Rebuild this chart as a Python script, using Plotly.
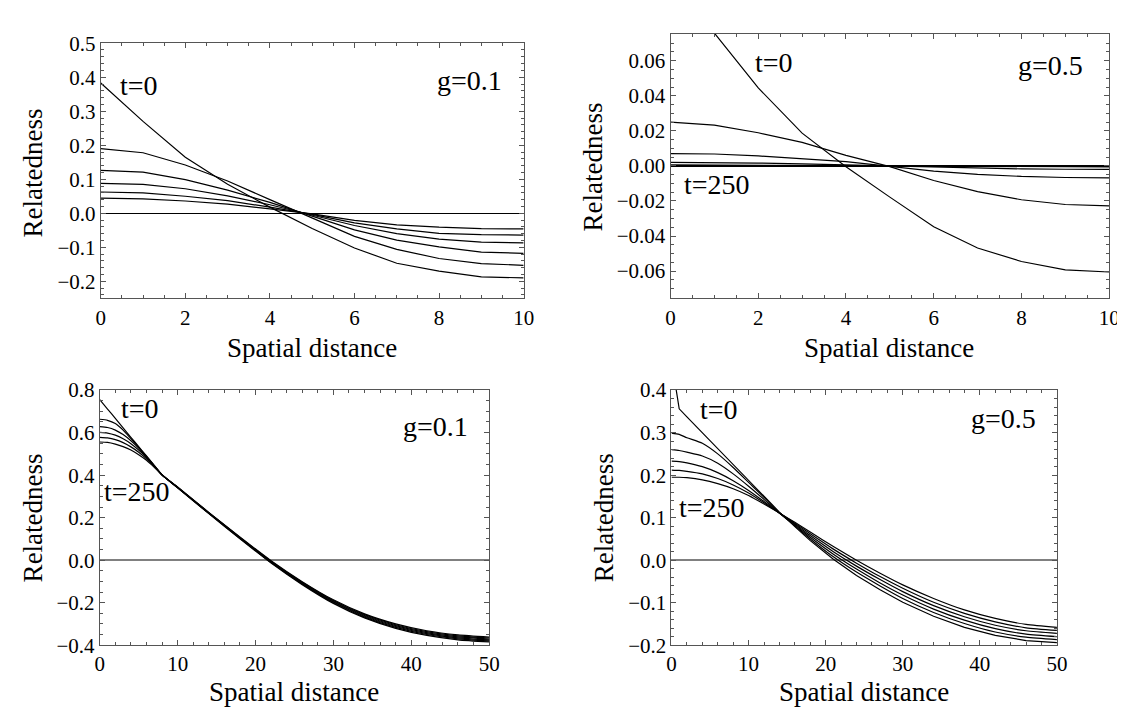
import plotly.graph_objects as go

W, H = 1125, 713
FONT = "Liberation Serif"

# ---------------- data ----------------
# Panel A (top-left, g=0.1)
dist_a = [0, 1, 2, 3, 4, 5, 6, 7, 8, 9, 10]
rel_a = [
    [0.383, 0.270, 0.165, 0.085, 0.018, -0.045, -0.102, -0.147, -0.170, -0.187, -0.190],
    [0.190, 0.178, 0.142, 0.095, 0.040, -0.014, -0.068, -0.106, -0.133, -0.148, -0.153],
    [0.126, 0.121, 0.099, 0.068, 0.032, -0.008, -0.049, -0.079, -0.099, -0.114, -0.118],
    [0.088, 0.085, 0.072, 0.051, 0.025, -0.005, -0.036, -0.060, -0.076, -0.085, -0.087],
    [0.0625, 0.060, 0.050, 0.037, 0.018, -0.003, -0.028, -0.046, -0.059, -0.063, -0.064],
    [0.0445, 0.0426, 0.036, 0.027, 0.013, -0.002, -0.021, -0.034, -0.041, -0.045, -0.046],
]

# Panel B (top-right, g=0.5)
dist_b = [0, 1, 2, 3, 4, 5, 6, 7, 8, 9, 10]
rel_b = [
    [0.107, 0.0755, 0.0445, 0.0187, -0.0005, -0.0178, -0.0347, -0.0468, -0.0545, -0.0593, -0.0605],
    [0.025, 0.0233, 0.0189, 0.0134, 0.006, -0.0004, -0.0083, -0.0147, -0.0193, -0.022, -0.0228],
    [0.0070, 0.0068, 0.0057, 0.0042, 0.0024, -0.0003, -0.0030, -0.0048, -0.0060, -0.0066, -0.0068],
    [0.0020, 0.0019, 0.0016, 0.0012, 0.0006, 0.0000, -0.0008, -0.0013, -0.0017, -0.0019, -0.0020],
    [0.0006, 0.0006, 0.0005, 0.0004, 0.0002, 0.0000, -0.0002, -0.0004, -0.0005, -0.0006, -0.0006],
    [0.0002, 0.0002, 0.0002, 0.0001, 0.0001, 0.0000, -0.0001, -0.0001, -0.0002, -0.0002, -0.0002],
]

# Panel C (bottom-left, g=0.1)
dist_c = [0, 1, 2, 3, 4, 5, 6, 7, 8, 10, 14, 18, 22, 26, 30, 34, 38, 42, 46, 50]
rel_c = [
    [0.755, 0.711, 0.667, 0.622, 0.578, 0.534, 0.490, 0.446, 0.402, 0.340, 0.219, 0.101, -0.0135, -0.115, -0.2035, -0.2715, -0.3205, -0.354, -0.3745, -0.3845],
    [0.663, 0.658, 0.643, 0.612, 0.572, 0.531, 0.488, 0.445, 0.401, 0.3408, 0.2202, 0.1026, -0.0113, -0.1122, -0.2001, -0.2677, -0.3163, -0.3496, -0.3699, -0.3799],
    [0.628, 0.624, 0.612, 0.591, 0.562, 0.527, 0.486, 0.444, 0.401, 0.3416, 0.2214, 0.1042, -0.0091, -0.1094, -0.1967, -0.2639, -0.3121, -0.3452, -0.3653, -0.3753],
    [0.601, 0.598, 0.588, 0.571, 0.548, 0.518, 0.483, 0.443, 0.401, 0.3424, 0.2226, 0.1058, -0.0069, -0.1066, -0.1933, -0.2601, -0.3079, -0.3408, -0.3607, -0.3707],
    [0.578, 0.575, 0.567, 0.553, 0.533, 0.508, 0.477, 0.441, 0.401, 0.3432, 0.2238, 0.1074, -0.0047, -0.1038, -0.1899, -0.2563, -0.3037, -0.3364, -0.3561, -0.3661],
    [0.556, 0.554, 0.546, 0.534, 0.518, 0.496, 0.470, 0.437, 0.401, 0.344, 0.225, 0.109, -0.0025, -0.101, -0.1865, -0.2525, -0.2995, -0.332, -0.3515, -0.3615],
]

# Panel D (bottom-right, g=0.5)
dist_d = [0, 1, 2, 4, 6, 8, 10, 12, 14, 16, 18, 21, 24, 27, 30, 34, 38, 42, 46, 50]
rel_d = [
    [0.470, 0.356, 0.337, 0.300, 0.263, 0.226, 0.189, 0.151, 0.113, 0.079, 0.046, 0.002, -0.036, -0.069, -0.099, -0.132, -0.158, -0.177, -0.189, -0.194],
    [0.299, 0.296, 0.288, 0.275, 0.250, 0.218, 0.183, 0.148, 0.111, 0.081, 0.050, 0.008, -0.028, -0.060, -0.090, -0.123, -0.149, -0.169, -0.181, -0.187],
    [0.260, 0.258, 0.254, 0.245, 0.228, 0.203, 0.174, 0.143, 0.111, 0.083, 0.054, 0.014, -0.021, -0.053, -0.082, -0.115, -0.141, -0.161, -0.174, -0.180],
    [0.233, 0.232, 0.229, 0.220, 0.206, 0.187, 0.164, 0.138, 0.111, 0.085, 0.058, 0.020, -0.014, -0.045, -0.074, -0.107, -0.133, -0.153, -0.166, -0.172],
    [0.212, 0.211, 0.209, 0.203, 0.192, 0.177, 0.158, 0.135, 0.111, 0.087, 0.062, 0.026, -0.007, -0.038, -0.066, -0.099, -0.125, -0.145, -0.159, -0.165],
    [0.195, 0.195, 0.194, 0.189, 0.180, 0.168, 0.152, 0.132, 0.111, 0.089, 0.066, 0.032, 0.000, -0.030, -0.058, -0.090, -0.117, -0.137, -0.151, -0.158],
]

x_title = "Spatial distance"
y_title = "Relatedness"

# ---------------- layout helpers ----------------
def px_x(p):
    return p / W

def px_y(p):
    return 1 - p / H

panels = [
    dict(box=(89, 518, 24, 288), xr=[0, 10], yr=[-0.25, 0.5], xd=2, xm=0.5, yd=0.1, ym=0.02,
         yfmt=".1f", zc="#000000", zw=1),
    dict(box=(667, 1112, 14, 288), xr=[0, 10], yr=[-0.0755, 0.0755], xd=2, xm=0.5, yd=0.02, ym=0.005,
         yfmt=".2f", zc="#000000", zw=1.6),
    dict(box=(88, 483, 383, 647), xr=[0, 50], yr=[-0.4, 0.8], xd=10, xm=2, yd=0.2, ym=0.05,
         yfmt=".1f", zc="#808080", zw=1.6),
    dict(box=(668, 1059, 383, 647), xr=[0, 50], yr=[-0.2, 0.4], xd=10, xm=2, yd=0.1, ym=0.02,
         yfmt=".1f", zc="#808080", zw=1.6),
]

fig = go.Figure()

datasets = [(dist_a, rel_a, "linear"), (dist_b, rel_b, "linear"),
            (dist_c, rel_c, "spline"), (dist_d, rel_d, "spline")]

for i, (xs, series, shape) in enumerate(datasets):
    ax = "" if i == 0 else str(i + 1)
    for k, ys in enumerate(series):
        shp = shape
        if i == 3 and k == 0:
            shp = "linear"
        fig.add_trace(go.Scatter(
            x=xs, y=ys, mode="lines",
            line=dict(color="black", width=1.2, shape=shp, smoothing=0.6 if shp == "spline" else None),
            xaxis="x" + ax, yaxis="y" + ax, showlegend=False, hoverinfo="skip"))

tickfont = dict(family=FONT, size=21, color="black")
frame = "#555555"

for i, p in enumerate(panels):
    ax = "" if i == 0 else str(i + 1)
    xl, xr_, yt, yb = p["box"]
    fig.layout["xaxis" + ax] = dict(
        domain=[px_x(xl), px_x(xr_)], range=p["xr"], anchor="y" + ax,
        showline=True, linecolor=frame, linewidth=1, mirror="allticks",
        ticks="inside", ticklen=5, tickwidth=1, tickcolor=frame,
        dtick=p["xd"], tick0=0, showgrid=False, zeroline=False,
        tickfont=tickfont,
        minor=dict(ticks="inside", ticklen=3, tickcolor=frame, dtick=p["xm"], tick0=0, showgrid=False),
    )
    fig.layout["yaxis" + ax] = dict(
        domain=[px_y(yb), px_y(yt)], range=p["yr"], anchor="x" + ax,
        showline=True, linecolor=frame, linewidth=1, mirror="allticks",
        ticks="inside", ticklen=5, tickwidth=1, tickcolor=frame,
        dtick=p["yd"], tick0=0, showgrid=False, tickformat=p["yfmt"],
        zeroline=True, zerolinecolor=p["zc"], zerolinewidth=p["zw"],
        tickfont=tickfont,
        minor=dict(ticks="inside", ticklen=3, tickcolor=frame, dtick=p["ym"], tick0=0, showgrid=False),
    )

annots = []
lab_font = dict(family=FONT, size=28, color="black")
title_font = dict(family=FONT, size=27, color="black")

title_pos = [
    ((303, 339), (20, 158)),
    ((889, 339), (588, 152)),
    ((285, 695), (20, 515)),
    ((863, 695), (599, 515)),
]
for (xc, yc), (rx, ry) in title_pos:
    annots.append(dict(text=x_title, x=px_x(xc), y=px_y(yc), xref="paper", yref="paper",
                       showarrow=False, font=title_font, xanchor="center", yanchor="middle"))
    annots.append(dict(text=y_title, x=px_x(rx), y=px_y(ry), xref="paper", yref="paper",
                       showarrow=False, font=title_font, textangle=-90, xanchor="center", yanchor="middle"))

labels = [
    ("", "t=0", 0.42, 0.375, "left"),
    ("", "g=0.1", 9.53, 0.389, "right"),
    ("2", "t=0", 1.87, 0.0588, "left"),
    ("2", "t=250", 0.27, -0.0106, "left"),
    ("2", "g=0.5", 9.46, 0.0571, "right"),
    ("3", "t=0", 2.5, 0.715, "left"),
    ("3", "t=250", 0.25, 0.324, "left"),
    ("3", "g=0.1", 47.5, 0.629, "right"),
    ("4", "t=0", 3.45, 0.355, "left"),
    ("4", "t=250", 0.77, 0.123, "left"),
    ("4", "g=0.5", 47.6, 0.333, "right"),
]
for ax, txt, xv, yv, anc in labels:
    annots.append(dict(text=txt, x=xv, y=yv, xref="x" + ax, yref="y" + ax, showarrow=False,
                       font=lab_font, xanchor=anc, yanchor="middle"))

fig.update_layout(
    width=W, height=H, margin=dict(l=0, r=0, t=0, b=0),
    paper_bgcolor="white", plot_bgcolor="white",
    font=dict(family=FONT, color="black"),
    annotations=annots, showlegend=False,
)

fig.write_html("out.html", config={"displayModeBar": False})
